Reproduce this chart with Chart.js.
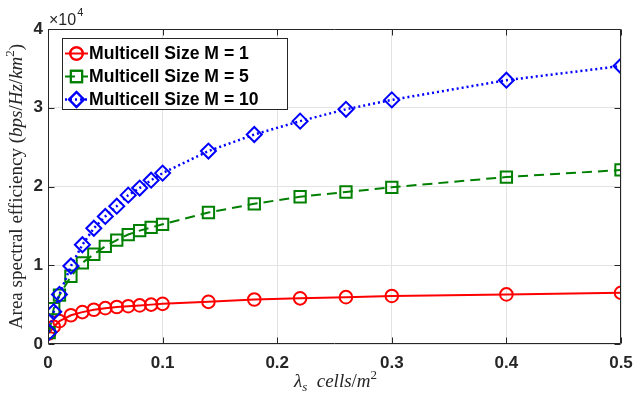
<!DOCTYPE html>
<html><head><meta charset="utf-8">
<script src="https://cdn.jsdelivr.net/npm/chart.js@4.4.1/dist/chart.umd.min.js"></script>
<style>html,body{margin:0;padding:0;background:#fff;}#wrap{width:634px;height:397px;position:relative;}</style>
</head><body><div id="wrap"><canvas id="c" width="634" height="397"></canvas></div>
<script>
// ---- data ----
const xValues  = [0.001,0.005,0.01,0.02,0.03,0.04,0.05,0.06,0.07,0.08,0.09,0.1,0.14,0.18,0.22,0.26,0.3,0.4,0.5];
const seriesM1  = [1350,2200,2900,3650,4050,4350,4550,4700,4800,4900,5000,5100,5350,5650,5800,5950,6100,6300,6500];
const seriesM5  = [1450,4500,6200,8600,10300,11400,12400,13200,13900,14400,14800,15200,16700,17800,18700,19300,19900,21200,22100];
const seriesM10 = [1500,4100,6300,9900,12600,14700,16200,17500,18900,19800,20800,21700,24500,26600,28300,29800,31000,33500,35300];
const seriesLabels = ['Multicell Size M = 1','Multicell Size M = 5','Multicell Size M = 10'];
const xTickValues = [0,0.1,0.2,0.3,0.4,0.5];
const yTickValues = [0,10000,20000,30000,40000];
const yScaleExponent = 4;

// ---- styles ----
const seriesStyles = [
  {color:'#ff0000', dash:[],    width:2,   pointStyle:'circle',  radius:6.3},
  {color:'#008000', dash:[10,6],width:2,   pointStyle:'rect',    radius:8},
  {color:'#0000ff', dash:[2,3], width:2.5, pointStyle:'rectRot', radius:7.5}
];
const allSeries = [seriesM1, seriesM5, seriesM10];
const TXT = '#262626';

const datasets = allSeries.map((ys,i)=>({
  label: seriesLabels[i],
  data: xValues.map((x,k)=>({x:x, y:ys[k]})),
  showLine: true,
  borderColor: seriesStyles[i].color,
  borderWidth: seriesStyles[i].width,
  borderDash: seriesStyles[i].dash,
  pointStyle: seriesStyles[i].pointStyle,
  pointRadius: seriesStyles[i].radius,
  pointBorderWidth: 2,
  pointBorderColor: seriesStyles[i].color,
  pointBackgroundColor: 'rgba(0,0,0,0)',
  tension: 0,
  order: 3 - i
}));

function drawRich(ctx, parts, cx, cy){
  let w = 0;
  parts.forEach(p=>{ ctx.font = p.font; p.w = ctx.measureText(p.t).width; w += p.w; });
  let x = cx - w/2;
  ctx.textBaseline = 'alphabetic'; ctx.textAlign = 'left';
  parts.forEach(p=>{ ctx.font = p.font; ctx.fillText(p.t, x, cy + (p.dy||0)); x += p.w; });
}

const decor = {
  id:'decor',
  afterDraw(chart){
    const {ctx, chartArea:a, scales} = chart;
    const xs = scales.x, ys = scales.y;
    ctx.save();
    const L = Math.round(a.left)+0.5, R = Math.round(a.right)-0.5, T = Math.round(a.top)+0.5, B = Math.round(a.bottom)-0.5;
    ctx.strokeStyle = TXT; ctx.lineWidth = 1; ctx.setLineDash([]);
    ctx.beginPath(); ctx.rect(L, T, R-L, B-T); ctx.stroke();
    ctx.beginPath();
    xTickValues.forEach(v=>{ const px = Math.round(xs.getPixelForValue(v))+0.5;
      ctx.moveTo(px,B); ctx.lineTo(px,B-6); ctx.moveTo(px,T); ctx.lineTo(px,T+6); });
    yTickValues.forEach(v=>{ const py = Math.round(ys.getPixelForValue(v))+0.5;
      ctx.moveTo(L,py); ctx.lineTo(L+6,py); ctx.moveTo(R,py); ctx.lineTo(R-6,py); });
    ctx.stroke();

    // exponent label
    ctx.fillStyle = TXT;
    ctx.textBaseline = 'alphabetic'; ctx.textAlign = 'left';
    ctx.font = '16px "Liberation Sans", Arial, sans-serif';
    ctx.fillText('\u00d710', 49, 25);
    const wx = ctx.measureText('\u00d710').width;
    ctx.font = '11px "Liberation Sans", Arial, sans-serif';
    ctx.fillText(String(yScaleExponent), 49+wx+1, 16);

    // y axis title
    ctx.save();
    ctx.translate(16, (a.top+a.bottom)/2);
    ctx.rotate(-Math.PI/2);
    ctx.fillStyle = TXT;
    const rf = '19px "Liberation Serif", "DejaVu Serif", serif';
    const itf = 'italic 19px "Liberation Serif", "DejaVu Serif", serif';
    const sf = '13px "Liberation Serif", "DejaVu Serif", serif';
    drawRich(ctx, [
      {t:'Area spectral efficiency ', font:rf},
      {t:'(', font:rf},{t:'bps', font:itf},{t:'/', font:rf},{t:'Hz', font:itf},{t:'/', font:rf},{t:'km', font:itf},
      {t:'2', font:sf, dy:-8},{t:')', font:rf}
    ], 0, 6);
    ctx.restore();

    // x axis title
    ctx.fillStyle = TXT;
    drawRich(ctx, [
      {t:'\u03bb', font:itf},{t:'s', font:'italic 13px "Liberation Serif", serif', dy:4},{t:'  cells', font:itf},
      {t:'/', font:rf},{t:'m', font:itf},{t:'2', font:sf, dy:-8}
    ], (a.left+a.right)/2 + 1, 387);

    // legend
    const bx = 62.5, by = 38.5, bw = 225, bh = 71;
    ctx.fillStyle = '#ffffff'; ctx.fillRect(bx, by, bw, bh);
    ctx.strokeStyle = TXT; ctx.lineWidth = 1; ctx.strokeRect(bx, by, bw, bh);
    const rows = [53.5, 76.5, 99.5];
    seriesStyles.forEach((s,i)=>{
      const yy = rows[i];
      ctx.strokeStyle = s.color; ctx.lineWidth = s.width; ctx.setLineDash(s.dash);
      ctx.beginPath(); ctx.moveTo(65, yy); ctx.lineTo(88, yy); ctx.stroke();
      ctx.setLineDash([]);
      ctx.lineWidth = 2;
      ctx.fillStyle = 'rgba(0,0,0,0)';
      Chart.helpers.drawPoint(ctx, {pointStyle:s.pointStyle, radius:s.radius, rotation:0, borderWidth:2}, 76.5, yy);
      ctx.stroke();
      ctx.fillStyle = '#000000';
      ctx.font = 'bold 17.6px "Liberation Sans", Arial, sans-serif';
      ctx.textBaseline = 'middle'; ctx.textAlign = 'left';
      ctx.fillText(seriesLabels[i], 89, yy + 1);
    });
    ctx.restore();
  }
};

new Chart(document.getElementById('c'), {
  type: 'scatter',
  data: { datasets },
  options: {
    responsive: false,
    animation: false,
    devicePixelRatio: 1,
    layout: { padding: { left: 0, top: 29, right: 13, bottom: 0 } },
    plugins: { legend: { display: false }, tooltip: { enabled: false } },
    scales: {
      x: {
        type: 'linear', min: 0, max: 0.5,
        afterBuildTicks: s => { s.ticks = xTickValues.map(v=>({value:v})); },
        afterFit: s => { s.height = 53; s.paddingLeft = 0; s.paddingRight = 0; },
        grid: { color: '#e3e3e3', lineWidth: 1, drawTicks: false },
        border: { display: false },
        ticks: { color: TXT, padding: 9, font: { family: '"Liberation Sans", Arial, sans-serif', size: 17, weight: 'bold' },
                 callback: v => String(Math.round(v*10)/10), maxRotation: 0 }
      },
      y: {
        type: 'linear', min: 0, max: 40000,
        afterBuildTicks: s => { s.ticks = yTickValues.map(v=>({value:v})); },
        afterFit: s => { s.width = 48; s.paddingTop = 0; s.paddingBottom = 0; },
        grid: { color: '#e3e3e3', lineWidth: 1, drawTicks: false },
        border: { display: false },
        ticks: { color: TXT, padding: 5, font: { family: '"Liberation Sans", Arial, sans-serif', size: 17, weight: 'bold' },
                 callback: v => String(v / Math.pow(10, yScaleExponent)) }
      }
    }
  },
  plugins: [decor]
});
</script></body></html>
